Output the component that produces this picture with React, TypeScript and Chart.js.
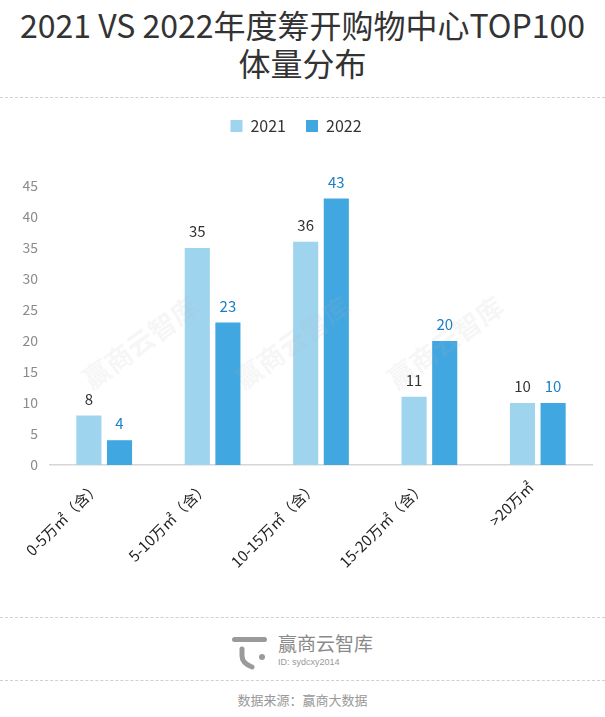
import React, { useEffect, useRef } from "react";
import { Chart, registerables } from "chart.js";

Chart.register(...registerables);

const categories = ["0-5万㎡（含）", "5-10万㎡（含）", "10-15万㎡（含）", "15-20万㎡（含）", ">20万㎡"];
const series2021 = [8, 35, 36, 11, 10];
const series2022 = [4, 23, 43, 20, 10];
const seriesNames = ["2021", "2022"];
const yTicks = [0, 5, 10, 15, 20, 25, 30, 35, 40, 45];
const watermarkCenters = [140, 292, 445];

const FONT = "'Noto Sans CJK SC', 'Noto Sans', sans-serif";

export default function App() {
  const ref = useRef<HTMLCanvasElement | null>(null);

  useEffect(() => {
    document.body.style.margin = "0";
    const canvas = ref.current;
    if (!canvas) return;
    const labelPlugin = {
      id: "valueLabels",
      afterDatasetsDraw(chart: any) {
        const ctx = chart.ctx;
        ctx.save();
        ctx.font = `15px ${FONT}`;
        ctx.textAlign = "center";
        ctx.textBaseline = "bottom";
        chart.data.datasets.forEach((ds: any, i: number) => {
          const meta = chart.getDatasetMeta(i);
          ctx.fillStyle = i === 0 ? "#333333" : "#1a7fc6";
          meta.data.forEach((bar: any, j: number) => {
            ctx.fillText(String(ds.data[j]), bar.x, bar.y - 9);
          });
        });
        ctx.restore();
      },
    };
    const legendSpace = {
      id: "legendSpace",
      beforeInit(chart: any) {
        const orig = chart.legend.fit;
        chart.legend.fit = function () {
          orig.bind(chart.legend)();
          this.height += 42;
        };
      },
    };
    const chart = new Chart(canvas, {
      type: "bar",
      data: {
        labels: categories,
        datasets: [
          {
            label: seriesNames[0],
            data: series2021,
            backgroundColor: "#9fd4ef",
            categoryPercentage: 0.565,
            barPercentage: 0.82,
          },
          {
            label: seriesNames[1],
            data: series2022,
            backgroundColor: "#41a7e1",
            categoryPercentage: 0.565,
            barPercentage: 0.82,
          },
        ],
      },
      options: {
        responsive: false,
        animation: false,
        layout: { padding: { left: 0, right: 13, top: -2, bottom: 0 } },
        plugins: {
          legend: {
            display: true,
            position: "top",
            labels: {
              boxWidth: 12,
              boxHeight: 12,
              padding: 20,
              color: "#333",
              font: { size: 16, family: FONT },
            },
          },
          tooltip: { enabled: false },
        },
        scales: {
          x: {
            grid: { display: false, drawTicks: false },
            border: { display: true, color: "#d6d6d6", width: 1.5 },
            ticks: {
              color: "#222",
              font: { size: 15, family: FONT },
              minRotation: 45,
              maxRotation: 45,
              padding: 13,
              labelOffset: -7,
            },
            afterFit(s: any) {
              s.height = 150;
            },
          },
          y: {
            min: 0,
            max: 45,
            afterBuildTicks(s: any) {
              s.ticks = yTicks.map((v) => ({ value: v }));
            },
            grid: { display: false, drawTicks: false },
            border: { display: false },
            ticks: {
              color: "#8a8a8a",
              font: { size: 14, family: FONT },
              padding: 12,
            },
            afterFit(s: any) {
              s.width = 50;
            },
          },
        },
      },
      plugins: [labelPlugin, legendSpace],
    } as any);
    return () => chart.destroy();
  }, []);

  const dashed = (top: number) => (
    <div
      style={{
        position: "absolute",
        left: 0,
        top,
        width: 605,
        borderTop: "1px dashed #d0d0d0",
      }}
    />
  );

  return (
    <div style={{ position: "relative", width: 605, height: 717, background: "#fff", overflow: "hidden", fontFamily: FONT }}>
      <div
        style={{
          position: "absolute",
          left: 0,
          top: 5,
          width: 605,
          textAlign: "center",
          fontSize: 32,
          lineHeight: "38px",
          color: "#333",
        }}
      >
        2021 VS 2022年度筹开购物中心TOP100
        <br />
        体量分布
      </div>
      {dashed(97)}
      <canvas ref={ref} width={605} height={515} style={{ position: "absolute", left: 0, top: 100, width: 605, height: 515 }} />
      {watermarkCenters.map((cx, i) => (
        <div
          key={i}
          style={{
            position: "absolute",
            left: cx - 70,
            top: 342 - 16,
            width: 140,
            textAlign: "center",
            transform: "rotate(-36deg)",
            fontSize: 27,
            lineHeight: "32px",
            fontWeight: 700,
            color: "rgba(180,180,180,0.12)",
            whiteSpace: "nowrap",
            pointerEvents: "none",
          }}
        >
          赢商云智库
        </div>
      ))}
      {dashed(617)}
      <svg style={{ position: "absolute", left: 225, top: 625 }} width={50} height={50} viewBox="0 0 50 50">
        <rect x={7} y={12} width={35} height={5} rx={2.5} fill="#9a9a9a" />
        <path d="M17 24 L17 31 Q17 38 27 42" stroke="#9a9a9a" strokeWidth={5} fill="none" strokeLinecap="round" />
        <circle cx={37} cy={32} r={3} fill="#9a9a9a" />
      </svg>
      <div style={{ position: "absolute", left: 278, top: 630, fontSize: 19, color: "#8a8a8a", lineHeight: "26px" }}>赢商云智库</div>
      <div style={{ position: "absolute", left: 278, top: 656, fontSize: 9, color: "#999", lineHeight: "12px", fontFamily: "'Liberation Sans', sans-serif" }}>ID: sydcxy2014</div>
      {dashed(680)}
      <div style={{ position: "absolute", left: 0, top: 691, width: 605, textAlign: "center", fontSize: 13, color: "#999", lineHeight: "18px" }}>
        数据来源：赢商大数据
      </div>
    </div>
  );
}
